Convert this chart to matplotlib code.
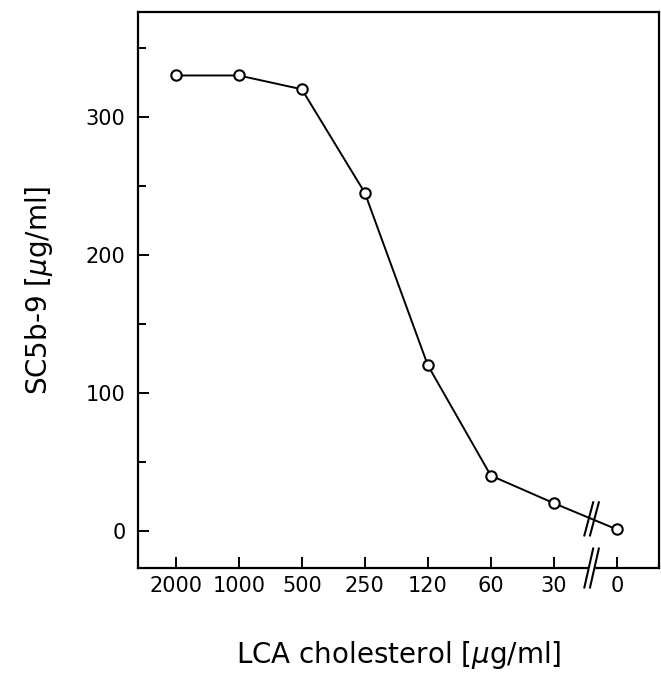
import numpy as np
import matplotlib.pyplot as plt
from matplotlib.transforms import blended_transform_factory

# данные с графика
conc_labels = ['2000', '1000', '500', '250', '120', '60', '30', '0']
sc5b9 = [330, 330, 320, 245, 120, 40, 20, 1]

plt.rcParams['font.family'] = ['DejaVu Sans']

fig = plt.figure(figsize=(6.61, 6.75), dpi=100)
ax = fig.add_axes([138 / 661, 1 - 568 / 675, 521 / 661, 556 / 675])

x = np.arange(len(conc_labels))
ax.plot(x, sc5b9, color='black', lw=1.4, marker='o', ms=7.5,
        mfc='white', mec='black', mew=1.5, zorder=3)

ax.set_xlim(-0.6, 7.67)
ax.set_ylim(-27, 376)
ax.set_xticks(x)
ax.set_xticklabels(conc_labels)
ax.set_yticks([0, 100, 200, 300])
ax.set_yticks([50, 150, 250, 350], minor=True)
ax.tick_params(direction='in', length=8, width=1.4, labelsize=15, pad=6)
ax.tick_params(which='minor', direction='in', length=6, width=1.4)
ax.tick_params(axis='y', pad=9)
for s in ax.spines.values():
    s.set_linewidth(1.6)

ax.set_ylabel('SC5b-9 [$\\mu$g/ml]', fontsize=20, labelpad=22)
ax.set_xlabel('LCA cholesterol [$\\mu$g/ml]', fontsize=20, labelpad=31)

# разрывы оси "//"
xb = 6.6
yb = np.interp(xb, x, sc5b9)
for dx in (-0.045, 0.045):
    ax.plot([xb + dx - 0.07, xb + dx + 0.07], [yb - 12, yb + 12],
            color='black', lw=1.5, zorder=4)
tr = blended_transform_factory(ax.transData, ax.transAxes)
ax.add_patch(plt.Rectangle((xb - 0.045, -0.01), 0.09, 0.02, transform=tr,
                           color='white', clip_on=False, zorder=5))
for dx in (-0.045, 0.045):
    ax.plot([xb + dx - 0.07, xb + dx + 0.07], [-0.035, 0.035], transform=tr,
            color='black', lw=1.5, clip_on=False, zorder=6)

fig.savefig('out.png', dpi=100)
